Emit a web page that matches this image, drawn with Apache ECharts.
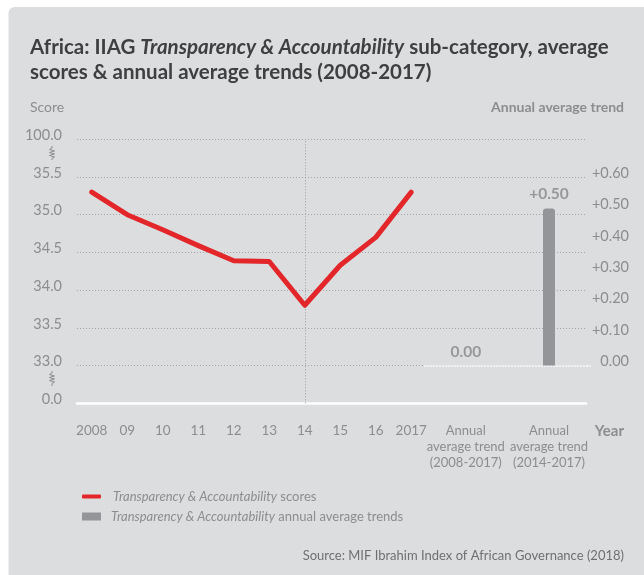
<!DOCTYPE html>
<html>
<head>
<meta charset="utf-8">
<script src="https://cdn.jsdelivr.net/npm/echarts@6/dist/echarts.min.js"></script>
<style>
  html, body { margin: 0; padding: 0; background: #ffffff; }
  #chart { width: 644px; height: 575px; }
</style>
</head>
<body>
<div id="chart"></div>
<script>
// Years on the score axis and the average scores for each year
const years = ['2008', '09', '10', '11', '12', '13', '14', '15', '16', '2017'];
const scores = [35.3, 35.0, 34.8, 34.59, 34.39, 34.38, 33.8, 34.33, 34.7, 35.3];

// Annual average trend columns
const trendLabels = ['Annual\naverage trend\n(2008-2017)', 'Annual\naverage trend\n(2014-2017)'];
const trends = [0.00, 0.50];

// Left axis: broken scale, bottom tick reads 0.0 and top tick 100.0
const scoreMin = 32.5, scoreMax = 36.0, scoreStep = 0.5;
const scoreBreakLabels = { '32.5': '0.0', '36': '100.0' };
// Right axis tick labels
const trendTicks = [0, 0.1, 0.2, 0.3, 0.4, 0.5, 0.6];
const trendMin = -0.12, trendMax = 0.72;

const markerYear = '14';

const FONT = 'Lato, "Open Sans", sans-serif';
const GREY_TXT = '#8c8d8f';
const RED = '#e3262a';
const BAR = '#939598';

const fmtTrend = v => (Math.abs(v) < 1e-9 ? '0.00' : '+' + v.toFixed(2));

const chart = echarts.init(document.getElementById('chart'), null, { renderer: 'canvas' });

const plotTop = 139.3, plotHeight = 264;

chart.setOption({
  animation: false,
  textStyle: { fontFamily: FONT },
  title: [
    {
      left: 25, top: 30,
      text: 'Africa: IIAG {i|Transparency & Accountability} sub-category, average\nscores & annual average trends (2008-2017)',
      textStyle: {
        fontFamily: FONT, fontSize: 20.5, fontWeight: 'bold', color: '#3e3f41', lineHeight: 25,
        rich: { i: { fontFamily: FONT, fontSize: 20.5, fontWeight: 'bold', fontStyle: 'italic', color: '#3e3f41', lineHeight: 25 } }
      }
    },
    { left: 25, top: 95, text: 'Score', textStyle: { fontFamily: FONT, fontSize: 14, fontWeight: 'normal', color: GREY_TXT } },
    { right: 15, top: 95, text: 'Annual average trend', textStyle: { fontFamily: FONT, fontSize: 14, fontWeight: 'bold', color: GREY_TXT } },
    { right: 15, top: 419, text: 'Year', textStyle: { fontFamily: FONT, fontSize: 15, fontWeight: 'bold', color: GREY_TXT } },
    { right: 15, top: 544, text: 'Source: MIF Ibrahim Index of African Governance (2018)', textStyle: { fontFamily: FONT, fontSize: 13, fontWeight: 'normal', color: '#6f7072' } }
  ],
  legend: [
    {
      left: 77, top: 485, itemWidth: 19, itemHeight: 4, icon: 'roundRect',
      data: ['Transparency & Accountability scores'],
      formatter: () => '{sp|}{i|Transparency & Accountability} scores',
      textStyle: { fontFamily: FONT, fontSize: 13, color: GREY_TXT,
        rich: { sp: { width: 7 }, i: { fontFamily: FONT, fontSize: 13, fontStyle: 'italic', color: GREY_TXT } } }
    },
    {
      left: 77, top: 505, itemWidth: 19, itemHeight: 8, icon: 'rect',
      data: ['Transparency & Accountability annual average trends'],
      formatter: () => '{sp|}{i|Transparency & Accountability} annual average trends',
      textStyle: { fontFamily: FONT, fontSize: 13, color: GREY_TXT,
        rich: { sp: { width: 5 }, i: { fontFamily: FONT, fontSize: 13, fontStyle: 'italic', color: GREY_TXT } } }
    }
  ],
  grid: [
    { left: 77, right: 58, top: plotTop, height: plotHeight },
    { left: 74, width: 355, top: plotTop, height: plotHeight },
    { left: 424.2, width: 166.4, top: plotTop, height: plotHeight }
  ],
  xAxis: [
    { gridIndex: 0, type: 'value', min: 0, max: 1, axisLabel: { show: false }, axisTick: { show: false }, splitLine: { show: false },
      axisLine: { show: true, onZero: false, lineStyle: { color: '#ffffff', width: 2.5 } } },
    { gridIndex: 1, type: 'category', data: years, boundaryGap: true,
      axisLine: { show: false }, axisTick: { show: false },
      axisLabel: { margin: 20, fontFamily: FONT, fontSize: 13.5, color: GREY_TXT, interval: 0 } },
    { gridIndex: 2, type: 'category', data: trendLabels, boundaryGap: true,
      axisLine: { show: false, onZero: false }, axisTick: { show: false },
      axisLabel: { margin: 20, fontFamily: FONT, fontSize: 13, lineHeight: 16, color: GREY_TXT, interval: 0 } }
  ],
  yAxis: [
    { gridIndex: 0, type: 'value', position: 'left', min: scoreMin, max: scoreMax, interval: scoreStep,
      axisLine: { show: false }, axisTick: { show: false },
      axisLabel: { margin: 15, fontFamily: FONT, fontSize: 14.5, color: GREY_TXT, verticalAlign: 'bottom', lineHeight: 8,
        formatter: v => scoreBreakLabels[String(v)] || v.toFixed(1) },
      splitLine: { show: true, lineStyle: { color: '#a4a5a7', type: [1, 2], width: 1 } } },
    { gridIndex: 0, type: 'value', position: 'right', min: trendMin, max: trendMax,
      axisLine: { show: false }, axisTick: { show: false }, splitLine: { show: false },
      axisLabel: { margin: 43, align: 'right', fontFamily: FONT, fontSize: 14.5, color: GREY_TXT, verticalAlign: 'bottom', lineHeight: 8,
        customValues: trendTicks, formatter: fmtTrend } },
    { gridIndex: 1, type: 'value', min: scoreMin, max: scoreMax, show: false },
    { gridIndex: 2, type: 'value', min: trendMin, max: trendMax, show: false }
  ],
  series: [
    {
      name: 'Transparency & Accountability scores',
      type: 'line', xAxisIndex: 1, yAxisIndex: 2,
      data: scores, symbol: 'none', z: 5,
      itemStyle: { color: RED },
      lineStyle: { color: RED, width: 5, cap: 'round', join: 'round' },
      markLine: {
        silent: true, symbol: ['none', 'none'], label: { show: false }, z: 1,
        lineStyle: { color: '#9a9b9d', type: [1, 2], width: 1 },
        data: [{ xAxis: markerYear }]
      }
    },
    {
      name: 'Transparency & Accountability annual average trends',
      type: 'bar', xAxisIndex: 2, yAxisIndex: 3,
      data: trends, barWidth: 12,
      itemStyle: { color: BAR, borderRadius: [3, 3, 0, 0] },
      label: { show: true, position: 'top', distance: 6, fontFamily: FONT, fontSize: 15.5, fontWeight: 'bold', color: '#97989a',
        formatter: p => fmtTrend(p.value) },
      markLine: {
        silent: true, symbol: ['none', 'none'], label: { show: false }, z: 1,
        lineStyle: { color: '#ffffff', type: [2, 1], width: 1.5 },
        data: [{ yAxis: 0 }]
      }
    }
  ],
  graphic: [
    { type: 'rect', z: -10, silent: true, shape: { x: 8.5, y: 7, width: 640, height: 572, r: [6, 0, 0, 0] }, style: { fill: '#dcdddf' } },
    { type: 'polyline', z: 10, silent: true, shape: { points: [[52, 146], [52, 148], [49.5, 149.5], [54.5, 151], [49.5, 152.5], [54.5, 154], [49.5, 155.5], [54.5, 157], [52, 158.5], [52, 160]] },
      style: { stroke: GREY_TXT, lineWidth: 1, fill: null } },
    { type: 'polyline', z: 10, silent: true, shape: { points: [[52, 371], [52, 373], [49.5, 374.5], [54.5, 376], [49.5, 377.5], [54.5, 379], [49.5, 380.5], [54.5, 382], [52, 383.5], [52, 386]] },
      style: { stroke: GREY_TXT, lineWidth: 1, fill: null } }
  ]
});
</script>
</body>
</html>
